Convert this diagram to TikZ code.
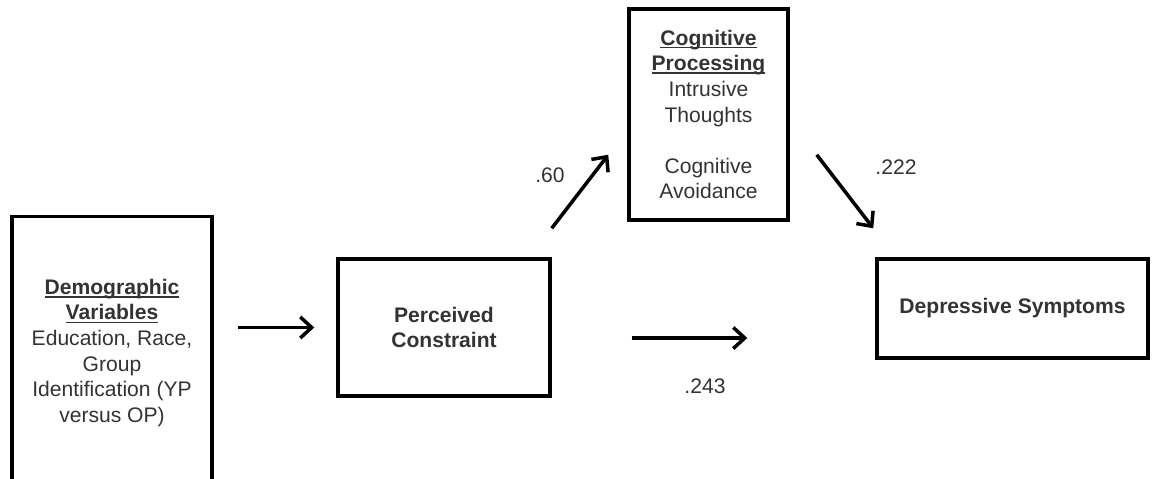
\documentclass[tikz,border=0pt]{standalone}
\usepackage{fontspec}
\setmainfont{Liberation Sans}
\usetikzlibrary{arrows.meta}
\newcommand\uln[1]{\setbox0\hbox{#1}\rlap{\rule[-1.8pt]{\wd0}{0.9pt}}\box0}

\begin{document}
\begin{tikzpicture}[x = 0.02cm, y = -0.02cm,
	every node/.style = {align = center, text = black!80, font = \fontsize{12}{14.6}\selectfont},
	box/.style = {rectangle, draw = black, line width = 2pt, inner sep = 0pt},
	arrow/.style = {line width = 2pt, -{Straight Barb[length = 6.5pt, width = 12pt, line width = 2pt]}}]

	\clip (0, 0) rectangle (1157, 478);

	\node [box, minimum width = 4cm, minimum height = 5.46cm] (demo) at (112, 353)
		{\uln{\textbf{Demographic}}\\\uln{\textbf{Variables}}\\Education, Race,\\Group\\Identification (YP\\versus OP)};
	\node [box, minimum width = 4.24cm, minimum height = 2.74cm] (perc) at (444, 327.5)
		{\textbf{Perceived}\\\textbf{Constraint}};
	\node [box, minimum width = 3.18cm, minimum height = 4.22cm] (cog) at (708.5, 114.5)
		{\uln{\textbf{Cognitive}}\\\uln{\textbf{Processing}}\\Intrusive\\Thoughts\\[14.6pt]Cognitive\\Avoidance};
	\node [box, minimum width = 5.42cm, minimum height = 1.98cm] (depr) at (1012.5, 308.5)
		{\textbf{Depressive Symptoms}};

	\draw [arrow, shorten <= 0.48cm, shorten >= 0.44cm] (demo.east |- perc.west) -- (perc.west);
	\draw [arrow] ([yshift = 0.58cm]perc.north east) -- ([xshift = -0.38cm, yshift = 1.34cm]cog.south west);
	\draw [arrow] ([xshift = 0.54cm, yshift = 1.34cm]cog.south east) -- ([xshift = -0.04cm, yshift = 0.58cm]depr.north west);
	\draw [arrow, shorten <= 1.6cm, shorten >= 2.56cm] ([yshift = -0.21cm]perc.east) -- ([yshift = -0.21cm]perc.east -| depr.west);

	\node (l60) at (550, 175) {.60};
	\node (l222) at (896, 167) {.222};
	\node (l243) at (705, 386) {.243};

\end{tikzpicture}
\end{document}
